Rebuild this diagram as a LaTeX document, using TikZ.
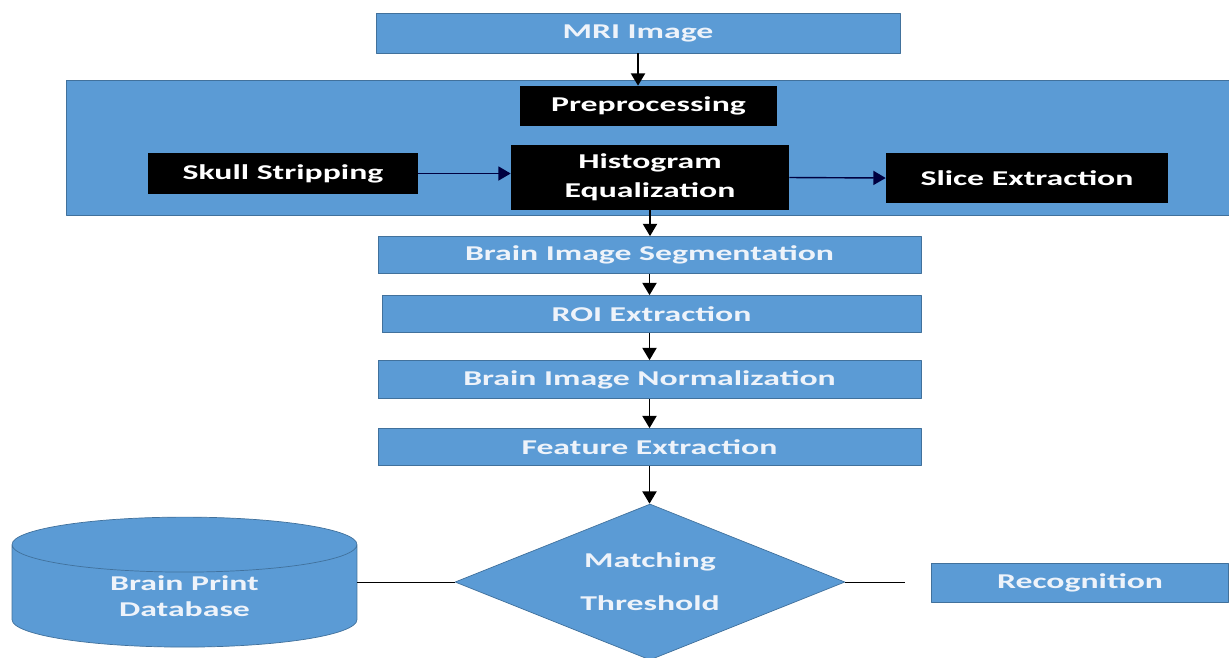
\documentclass[tikz,border=0pt]{standalone}
\usepackage{fontspec}
\setmainfont{Carlito}
\newfontfamily\boxfont[FakeStretch=1.6]{Carlito}
\usetikzlibrary{arrows.meta,shapes.geometric}
\definecolor{boxblue}{HTML}{5B9BD5}
\definecolor{boxline}{HTML}{41719C}
\definecolor{boxtext}{HTML}{EEF3FA}
\begin{document}
\begin{tikzpicture}[>={Triangle[length=7pt,width=8pt]},line join=round,x=0.02cm,y=-0.02cm,font=\boxfont\bfseries\fontsize{12}{16.5}\selectfont]
\tikzset{blue box/.style={draw=boxline,fill=boxblue,text=boxtext,inner sep=0pt},
  dark box/.style={fill=black,text=white,inner sep=0pt},
  link/.style={->,line width=1.1pt},
  side link/.style={->,line width=0.8pt,draw=black!75!blue}}
\useasboundingbox (0,0) rectangle (1229,657);
\node[blue box,minimum width=10.48cm,minimum height=0.8cm] (mri) at (638,33) {MRI Image};
% preprocessing panel
\node[blue box,minimum width=23.32cm,minimum height=2.7cm] (panel) at (649,147.5) {};
\node[dark box,minimum width=5.14cm,minimum height=0.8cm] (pre) at (648.5,106) {Preprocessing};
\node[dark box,minimum width=5.4cm,minimum height=0.82cm] (skull) at (283,173.5) {Skull Stripping};
\node[dark box,minimum width=5.56cm,minimum height=1.3cm,align=center] (histo) at (650,177.5) {Histogram\\Equalization};
\node[dark box,minimum width=5.64cm,minimum height=1cm] (slice) at (1027,178) {Slice Extraction};
% main chain
\node[blue box,minimum width=10.86cm,minimum height=0.74cm] (seg) at (649.5,255) {Brain Image Segmentation};
\node[blue box,minimum width=10.78cm,minimum height=0.74cm] (roi) at (651.5,314) {ROI Extraction};
\node[blue box,minimum width=10.86cm,minimum height=0.76cm] (norm) at (649.5,379.5) {Brain Image Normalization};
\node[blue box,minimum width=10.86cm,minimum height=0.74cm] (feat) at (649.5,447) {Feature Extraction};
\node[diamond,aspect=2.5,blue box,minimum width=7.8cm,minimum height=3.12cm,align=center] (match) at (650,582) {Matching\\[8pt]Threshold};
\node[cylinder,shape border rotate=90,aspect=0.37,blue box,minimum width=6.9cm,minimum height=2.6cm,align=center] (db) at (184.5,596) {Brain Print\\[-1.5pt]Database};
\node[blue box,minimum width=5.94cm,minimum height=0.78cm] (recog) at (1080,583) {Recognition};
\coordinate (gap) at (905,582);
\draw[link] (mri.south) -- (mri.south |- pre.north);
\draw[side link] (skull.east) -- (skull.east -| histo.west);
\draw[side link] (histo.east) -- (slice.west);
\draw[link] (histo.south) -- (histo.south |- seg.north);
\draw[link] (seg.south) -- (seg.south |- roi.north);
\draw[link] (seg.south |- roi.south) -- (seg.south |- norm.north);
\draw[link] (norm.south) -- (norm.south |- feat.north);
\draw[link] (feat.south) -- (feat.south |- match.north);
\draw[thin] (match.west -| db.east) -- (match.west);
\draw[thin] (match.east) -- (gap);
\end{tikzpicture}
\end{document}
